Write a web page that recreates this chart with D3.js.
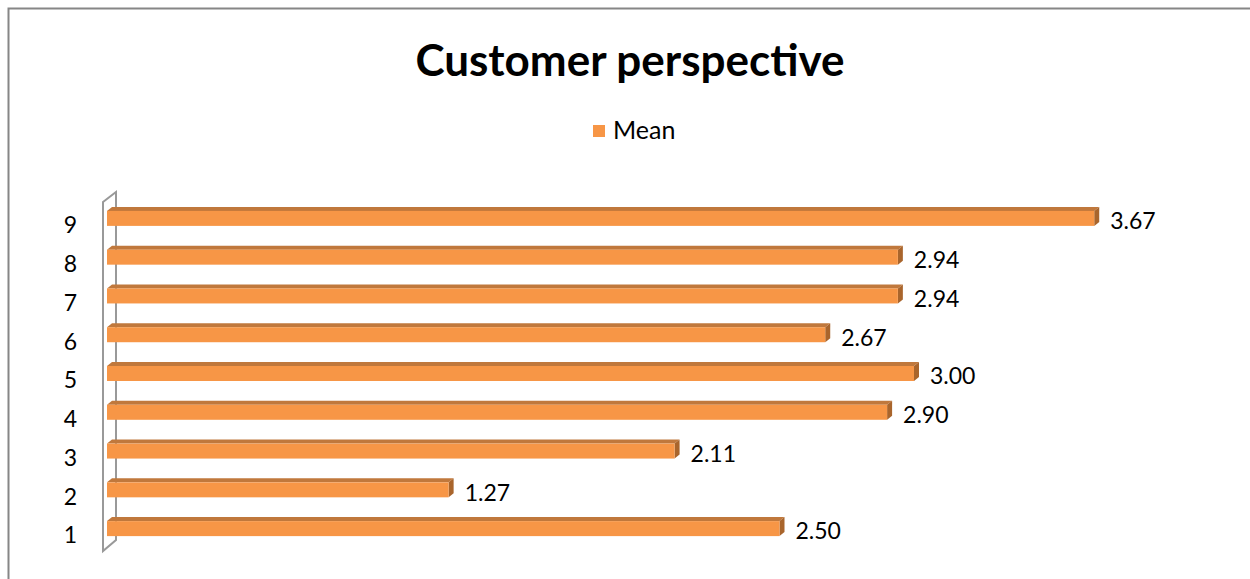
<!DOCTYPE html>
<html>
<head>
<meta charset="utf-8">
<script src="https://cdn.jsdelivr.net/npm/d3@7"></script>
<style>
  body { margin: 0; background: #fff; }
  svg { display: block; font-family: Lato, "Open Sans", sans-serif; }
</style>
</head>
<body>
<svg id="chart" width="1250" height="579"></svg>
<script>
// Chart data
const categories = ['1', '2', '3', '4', '5', '6', '7', '8', '9'];
const meanValues = [2.50, 1.27, 2.11, 2.90, 3.00, 2.67, 2.94, 2.94, 3.67];
const seriesName = 'Mean';
const chartTitle = 'Customer perspective';

const svg = d3.select('#chart');

// 3D look
const DX = 5, DY = 4, BARH = 15;
const FRONT = '#f79646', TOP = '#c0783c', SIDE = '#a9652c';

// Scales
const x = d3.scaleLinear().domain([0, 4]).range([107, 1183]);
const y = d3.scaleBand().domain(categories.slice().reverse()).range([202, 551]);

// Outer chart border (only top and left show)
svg.append('path')
    .attr('d', 'M8.5,579 V8.5 H1250')
    .attr('fill', 'none')
    .attr('stroke', '#868686')
    .attr('stroke-width', 2);

// Title
svg.append('text')
    .attr('x', 630).attr('y', 76)
    .attr('text-anchor', 'middle')
    .style('font-size', '44px')
    .style('font-weight', 'bold')
    .text(chartTitle);

// Legend
svg.append('rect')
    .attr('x', 593).attr('y', 125).attr('width', 12).attr('height', 12)
    .attr('fill', FRONT);
svg.append('text')
    .attr('x', 613).attr('y', 139)
    .style('font-size', '25px')
    .text(seriesName);

// Side wall drawn as outline
const [wTop, wBot] = y.range();
svg.append('path')
    .attr('d', `M103,${wTop} L116,${wTop - 10} V${wBot - 11} L103,${wBot} Z`)
    .attr('fill', 'none')
    .attr('stroke', '#999')
    .attr('stroke-width', 2);

// Category labels
svg.append('g')
    .selectAll('text')
    .data(categories)
    .join('text')
    .attr('x', 77)
    .attr('y', d => y(d) + y.bandwidth() / 2 + 6)
    .attr('text-anchor', 'end')
    .attr('dominant-baseline', 'middle')
    .style('font-size', '23px')
    .text(d => d);

// Bars
const rows = categories.map((c, i) => ({ cat: c, value: meanValues[i] }));
const bars = svg.append('g')
    .selectAll('g')
    .data(rows)
    .join('g');

const frontTop = d => y(d.cat) + y.bandwidth() / 2 - 10.5;

bars.append('path')
    .attr('fill', TOP)
    .attr('d', d => {
        const x0 = x(0), x1 = x(d.value), t = frontTop(d);
        return `M${x0},${t} L${x1},${t} L${x1 + DX},${t - DY} L${x0 + DX},${t - DY} Z`;
    });
bars.append('path')
    .attr('fill', SIDE)
    .attr('d', d => {
        const x1 = x(d.value), t = frontTop(d);
        return `M${x1},${t} L${x1 + DX},${t - DY} L${x1 + DX},${t - DY + BARH} L${x1},${t + BARH} Z`;
    });
bars.append('rect')
    .attr('fill', FRONT)
    .attr('x', x(0))
    .attr('y', d => frontTop(d))
    .attr('width', d => x(d.value) - x(0))
    .attr('height', BARH);

// Value labels
bars.append('text')
    .attr('x', d => x(d.value) + 16)
    .attr('y', d => frontTop(d) + BARH / 2 + 5)
    .attr('dominant-baseline', 'middle')
    .style('font-size', '23px')
    .text(d => d3.format('.2f')(d.value));
</script>
</body>
</html>
